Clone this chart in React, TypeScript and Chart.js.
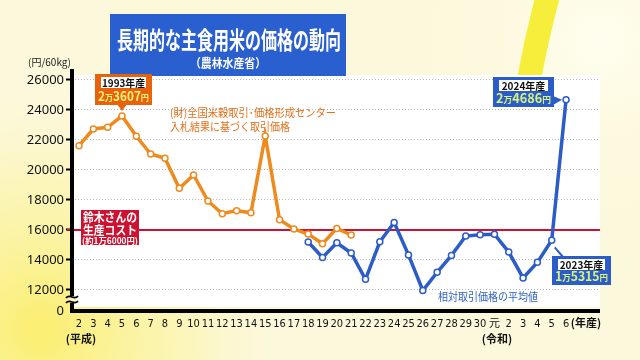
import React, { useEffect, useRef } from "react";
import { Chart, registerables } from "chart.js";

Chart.register(...registerables);

// ---- data ----
const yearLabels = [
  "2", "3", "4", "5", "6", "7", "8", "9", "10", "11", "12", "13", "14", "15", "16", "17", "18", "19", "20",
  "21", "22", "23", "24", "25", "26", "27", "28", "29", "30", "元", "2", "3", "4", "5", "6",
];
// 入札結果に基づく取引価格 (平成2〜21年産)
const auctionPrice = [
  21620, 22733, 22847, 23607, 22247, 21067, 20780, 18780, 19667, 17933, 17087, 17290, 17153, 22267, 16687,
  16067, 15733, 15087, 16107, 15667,
];
const auctionStart = 0;
// 相対取引価格の平均値 (平成18年産〜令和6年産)
const relativePrice = [
  15203, 14164, 15146, 14470, 12711, 15215, 16501, 14341, 11967, 13175, 14307, 15595, 15688, 15716, 14529,
  12804, 13844, 15315, 24686,
];
const relativeStart = 16;
const yTicks = [12000, 14000, 16000, 18000, 20000, 22000, 24000, 26000];
const yBreakValue = 10600; // shown as "0"
const costLine = 16000;

const JP = '"Noto Sans CJK JP", "Noto Sans", sans-serif';
const ORANGE = "#ee8a1e";
const BLUE = "#2b5cc8";
const RED = "#cc1230";

type Seg = { t: string; s: number };
function drawSegs(ctx: CanvasRenderingContext2D, segs: Seg[], cx: number, y: number, color: string, maxW: number) {
  ctx.save();
  ctx.fillStyle = color;
  ctx.textBaseline = "alphabetic";
  ctx.textAlign = "left";
  let total = 0;
  const widths = segs.map((g) => {
    ctx.font = `bold ${g.s}px ${JP}`;
    const w = ctx.measureText(g.t).width;
    total += w;
    return w;
  });
  const sc = total > maxW ? maxW / total : 1;
  ctx.translate(cx, y);
  ctx.scale(sc, 1);
  let x = -total / 2;
  segs.forEach((g, i) => {
    ctx.font = `bold ${g.s}px ${JP}`;
    ctx.fillText(g.t, x, 0);
    x += widths[i];
  });
  ctx.restore();
}

function labelBox(
  ctx: CanvasRenderingContext2D,
  x: number, y: number, w: number, h: number,
  fill: string, year: string, segs: Seg[], valColor: string
) {
  ctx.save();
  ctx.fillStyle = fill;
  ctx.fillRect(x, y, w, h);
  ctx.fillStyle = "#ffffff";
  ctx.fillRect(x + 6, y + 3, w - 12, 11);
  ctx.fillStyle = "#111";
  ctx.font = `bold 10px ${JP}`;
  ctx.textAlign = "center";
  ctx.textBaseline = "middle";
  ctx.fillText(year, x + w / 2, y + 9, w - 14);
  ctx.restore();
  drawSegs(ctx, segs, x + w / 2, y + h - 4, valColor, w - 6);
}

const decorPlugin = {
  id: "decor",
  beforeDraw(chart: any) {
    const ctx: CanvasRenderingContext2D = chart.ctx;
    const W = chart.width, H = chart.height;
    ctx.save();
    ctx.fillStyle = "#fcf8dc";
    ctx.fillRect(0, 0, W, H);
    let g = ctx.createRadialGradient(40, 330, 10, 40, 330, 250);
    g.addColorStop(0, "rgba(250,236,90,0.8)");
    g.addColorStop(0.6, "rgba(250,240,120,0.3)");
    g.addColorStop(1, "rgba(252,247,214,0)");
    ctx.fillStyle = g;
    ctx.fillRect(0, 0, W, H);
    g = ctx.createRadialGradient(600, 40, 10, 600, 40, 200);
    g.addColorStop(0, "rgba(255,255,240,0.9)");
    g.addColorStop(1, "rgba(252,247,214,0)");
    ctx.fillStyle = g;
    ctx.fillRect(0, 0, W, H);
    // yellow swirl
    ctx.strokeStyle = "#f6ee3a";
    ctx.lineWidth = 24;
    ctx.beginPath();
    ctx.moveTo(548, -5);
    ctx.quadraticCurveTo(536, 40, 528, 85);
    ctx.stroke();
    // white plot panel
    const a = chart.chartArea;
    ctx.fillStyle = "#ffffff";
    ctx.fillRect(a.left, a.top, a.right - a.left, a.bottom - 4 - a.top);
    ctx.restore();
  },
  beforeDatasetsDraw(chart: any) {
    const ctx: CanvasRenderingContext2D = chart.ctx;
    const a = chart.chartArea;
    const y = chart.scales.y.getPixelForValue(costLine);
    ctx.save();
    ctx.strokeStyle = RED;
    ctx.lineWidth = 2;
    ctx.beginPath();
    ctx.moveTo(a.left - 5, y);
    ctx.lineTo(a.right, y);
    ctx.stroke();
    ctx.restore();
  },
  afterDatasetsDraw(chart: any) {
    const ctx: CanvasRenderingContext2D = chart.ctx;
    const a = chart.chartArea;
    const xs = chart.scales.x, ys = chart.scales.y;
    ctx.save();
    // axes
    ctx.strokeStyle = "#000";
    ctx.lineWidth = 4;
    ctx.beginPath();
    ctx.moveTo(a.left, a.top - 6);
    ctx.lineTo(a.left, a.bottom);
    ctx.lineTo(a.right, a.bottom);
    ctx.stroke();
    // axis break
    const yb = ys.getPixelForValue(12000) + 7;
    ctx.fillStyle = "#fcf3c0";
    ctx.fillRect(a.left - 3, yb - 1, 7, 7);
    ctx.strokeStyle = "#000";
    ctx.lineWidth = 1.8;
    for (const dy of [0, 5]) {
      ctx.beginPath();
      ctx.moveTo(a.left - 6, yb + dy + 1);
      ctx.bezierCurveTo(a.left - 2, yb + dy - 4, a.left + 2, yb + dy + 4, a.left + 6, yb + dy - 1);
      ctx.stroke();
    }

    // title box
    ctx.fillStyle = "#2a5fcf";
    ctx.fillRect(110, 14, 236, 62);
    ctx.fillStyle = "#fff";
    ctx.textAlign = "center";
    ctx.textBaseline = "alphabetic";
    ctx.font = `bold 24px ${JP}`;
    ctx.fillText("長期的な主食用米の価格の動向", 229, 49, 224);
    ctx.font = `bold 12px ${JP}`;
    ctx.fillText("（農林水産省）", 228, 68, 76);
    // unit
    ctx.fillStyle = "#222";
    ctx.font = `10px ${JP}`;
    ctx.textAlign = "left";
    ctx.fillText("(円/60kg)", 28, 66);

    // series notes
    ctx.fillStyle = "#e6701a";
    ctx.font = `11px ${JP}`;
    ctx.fillText("(財)全国米穀取引･価格形成センター", 170, 117, 166);
    ctx.fillText("入札結果に基づく取引価格", 170, 131, 120);
    ctx.fillStyle = "#3062c4";
    ctx.fillText("相対取引価格の平均値", 438, 301, 100);

    // x extras
    ctx.fillStyle = "#111";
    ctx.font = `bold 11px ${JP}`;
    ctx.textAlign = "center";
    ctx.fillText("(平成)", 81, 343);
    ctx.fillText("(令和)", 497, 343);
    ctx.fillText("(年産)", 586, 327);

    // 1993 box
    const p93x = xs.getPixelForValue(auctionStart + 3);
    const p93y = ys.getPixelForValue(auctionPrice[3]);
    ctx.fillStyle = "#e8620c";
    ctx.beginPath();
    ctx.moveTo(p93x - 5, 104);
    ctx.lineTo(p93x + 5, 104);
    ctx.lineTo(p93x, p93y - 5);
    ctx.closePath();
    ctx.fill();
    labelBox(ctx, 95, 74, 57, 31, "#e8620c", "1993年産",
      [{ t: "2", s: 13 }, { t: "万", s: 9 }, { t: "3607", s: 13 }, { t: "円", s: 9 }], "#fff27a");

    // red cost box
    ctx.fillStyle = RED;
    ctx.fillRect(81, 210, 58, 35);
    ctx.fillStyle = "#fff";
    ctx.textAlign = "center";
    ctx.font = `bold 12px ${JP}`;
    ctx.fillText("鈴木さんの", 110, 222, 54);
    ctx.fillText("生産コスト", 110, 235, 54);
    ctx.font = `bold 8.5px ${JP}`;
    ctx.fillText("(約1万6000円)", 110, 244, 56);

    // 2024 box
    const iLast = relativeStart + relativePrice.length - 1;
    const p24x = xs.getPixelForValue(iLast);
    const p24y = ys.getPixelForValue(relativePrice[relativePrice.length - 1]);
    ctx.fillStyle = BLUE;
    ctx.beginPath();
    ctx.moveTo(553, 96);
    ctx.lineTo(553, 105);
    ctx.lineTo(p24x - 4, p24y);
    ctx.closePath();
    ctx.fill();
    labelBox(ctx, 493, 77, 61, 30, BLUE, "2024年産",
      [{ t: "2", s: 13 }, { t: "万", s: 9 }, { t: "4686", s: 13 }, { t: "円", s: 9 }], "#d8f27a");

    // 2023 box
    const p23x = xs.getPixelForValue(iLast - 1);
    const p23y = ys.getPixelForValue(relativePrice[relativePrice.length - 2]);
    ctx.strokeStyle = BLUE;
    ctx.lineWidth = 2;
    ctx.beginPath();
    ctx.moveTo(p23x + 3, p23y + 7);
    ctx.lineTo(563, 257);
    ctx.stroke();
    labelBox(ctx, 552, 256, 59, 29, BLUE, "2023年産",
      [{ t: "1", s: 13 }, { t: "万", s: 9 }, { t: "5315", s: 13 }, { t: "円", s: 9 }], "#d8f27a");
    ctx.restore();
  },
};

export default function App() {
  const ref = useRef<HTMLCanvasElement>(null);
  useEffect(() => {
    const auctionData = auctionPrice.map((v, i) => ({ x: auctionStart + i, y: v }));
    const relativeData = relativePrice.map((v, i) => ({ x: relativeStart + i, y: v }));
    const chart = new Chart(ref.current!, {
      type: "line",
      data: {
        datasets: [
          {
            label: "入札結果に基づく取引価格",
            data: auctionData,
            borderColor: ORANGE,
            borderWidth: 3.5,
            pointRadius: 3,
            pointBackgroundColor: "#fff",
            pointBorderColor: ORANGE,
            pointBorderWidth: 1.5,
            tension: 0,
          },
          {
            label: "相対取引価格の平均値",
            data: relativeData,
            borderColor: BLUE,
            borderWidth: 3.5,
            pointRadius: 3,
            pointBackgroundColor: "#fff",
            pointBorderColor: BLUE,
            pointBorderWidth: 1.5,
            tension: 0,
          },
        ],
      },
      options: {
        responsive: false,
        animation: false,
        devicePixelRatio: 1,
        layout: { padding: { top: 75, right: 40, left: 0, bottom: 0 } },
        plugins: { legend: { display: false }, tooltip: { enabled: false } },
        scales: {
          x: {
            type: "linear",
            min: -0.49,
            max: 36.37,
            afterBuildTicks: (s: any) => {
              s.ticks = yearLabels.map((_, i) => ({ value: i }));
            },
            afterFit: (s: any) => {
              s.height = 49;
            },
            ticks: {
              autoSkip: false,
              maxRotation: 0,
              padding: 7,
              color: "#111",
              font: { family: '"DejaVu Sans Condensed", "Liberation Sans Narrow", Roboto, "Noto Sans CJK JP", sans-serif', size: 11 },
              callback: (v: any) => yearLabels[v] ?? "",
            },
            grid: { display: false, drawTicks: false },
            border: { display: false },
          },
          y: {
            type: "linear",
            min: yBreakValue,
            max: 26333,
            afterBuildTicks: (s: any) => {
              s.ticks = [yBreakValue, ...yTicks].map((v) => ({ value: v }));
            },
            afterFit: (s: any) => {
              s.width = 72;
            },
            ticks: {
              padding: 2,
              color: "#111",
              font: { family: '"Noto Sans", sans-serif', size: 13 },
              callback: (v: any) => (v === yBreakValue ? "0" : String(v)),
            },
            grid: {
              color: (c: any) => (c.tick && c.tick.value === yBreakValue ? "rgba(0,0,0,0)" : "#b8b8b8"),
              lineWidth: 1,
              tickLength: 6,
              tickColor: (c: any) => (c.tick && c.tick.value === yBreakValue ? "rgba(0,0,0,0)" : "#000"),
              tickWidth: 2,
            },
            border: { display: false, dash: [1, 2] },
          },
        },
      },
      plugins: [decorPlugin],
    } as any);
    return () => chart.destroy();
  }, []);
  return (
    <div style={{ position: "fixed", left: 0, top: 0, width: 640, height: 360 }}>
      <canvas ref={ref} width={640} height={360} style={{ width: 640, height: 360, display: "block" }} />
    </div>
  );
}
